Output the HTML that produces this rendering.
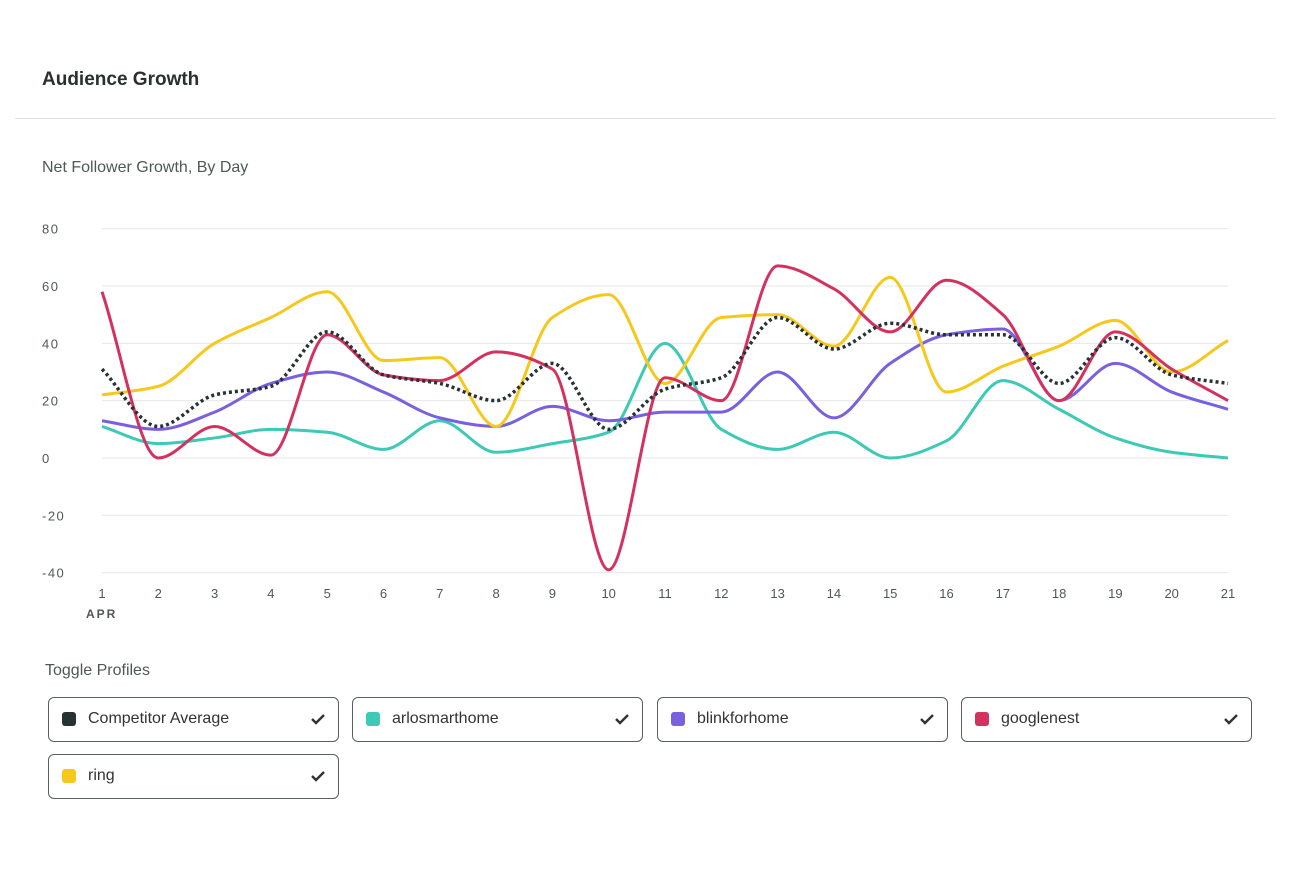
<!DOCTYPE html>
<html><head><meta charset="utf-8"><style>
body{margin:0;width:1300px;height:878px;background:#fff;font-family:"Liberation Sans",sans-serif;color:#333;position:relative;overflow:hidden}
.h{position:absolute;left:42px;top:69px;font-size:19px;font-weight:bold;color:#2a3030}
.div{position:absolute;left:15px;top:118px;width:1261px;height:1px;background:#e2e4e4}
.sub{position:absolute;left:42px;top:159px;font-size:16px;color:#505757}
.tg{position:absolute;left:45px;top:662px;font-size:16px;color:#505757}
.btn{position:absolute;height:45px;width:291px;border:1px solid #5a5f5f;border-radius:6px;box-sizing:border-box;font-size:16px;color:#333}
.btn .sw{position:absolute;left:13px;top:14px;width:14px;height:14px;border-radius:3px}
.btn .lb{position:absolute;left:39px;top:12px}
.btn svg{position:absolute;right:12px;top:14px}
</style></head><body>
<div class="h">Audience Growth</div>
<div class="div"></div>
<div class="sub">Net Follower Growth, By Day</div>
<svg id="chart" width="1300" height="640" style="position:absolute;left:0;top:0"></svg>
<div class="tg">Toggle Profiles</div>
<div id="legend"></div>
<script>
const days=[1,2,3,4,5,6,7,8,9,10,11,12,13,14,15,16,17,18,19,20,21];
const yTicks=[80,60,40,20,0,-20,-40];
const avgVals=[31,11,22,25,44,29,26,20,33,10,24,28,49,38,47,43,43,26,42,29,26];
const arloVals=[11,5,7,10,9,3,13,2,5,9,40,10,3,9,0,6,27,17,7,2,0];
const blinkVals=[13,10,16,26,30,23,14,11,18,13,16,16,30,14,33,43,45,20,33,23,17];
const nestVals=[58,0,11,1,43,29,27,37,31,-39,28,20,67,59,44,62,50,20,44,31,20];
const ringVals=[22,25,40,49,58,34,35,11,49,57,26,49,50,39,63,23,32,39,48,30,41];
const names=['Competitor Average','arlosmarthome','blinkforhome','googlenest','ring'];
const colors=['#263233','#3cc9b5','#7a5fdf','#d3325f','#f7c81c'];
const X=d=>102+(d-1)*56.3, Y=v=>458-v*2.867;
const svg=document.getElementById('chart'),NS='http://www.w3.org/2000/svg';
function el(t,a){const e=document.createElementNS(NS,t);for(const k in a)e.setAttribute(k,a[k]);svg.appendChild(e);return e;}
yTicks.forEach(t=>{
 const l=el('line',{x1:102,x2:1228,y1:Y(t),y2:Y(t),stroke:'#e6e8e8','stroke-width':1});
 
 
 const tx=el('text',{x:42,y:Y(t)+5,'font-size':13,fill:'#505757','letter-spacing':'1.5'});tx.textContent=t;
 
 
});
days.forEach(d=>{
 const tx=el('text',{x:X(d),y:598,'font-size':13,fill:'#505757','text-anchor':'middle'});tx.textContent=d;
 
 
});
const apr=el('text',{x:86,y:618,'font-size':12,'font-weight':'bold',fill:'#505757','letter-spacing':'2'});apr.textContent='APR';


function mono(xs,ys){const n=xs.length,dx=[],m=[],t=[];
 for(let i=0;i<n-1;i++){dx[i]=xs[i+1]-xs[i];m[i]=(ys[i+1]-ys[i])/dx[i];}
 t[0]=m[0];t[n-1]=m[n-2];
 for(let i=1;i<n-1;i++){t[i]=(m[i-1]*m[i]<=0)?0:3*(dx[i-1]+dx[i])/((2*dx[i]+dx[i-1])/m[i-1]+(dx[i]+2*dx[i-1])/m[i]);}
 let p='M'+xs[0]+','+ys[0];
 for(let i=0;i<n-1;i++){const h=dx[i]/3;p+=' C'+(xs[i]+h)+','+(ys[i]+t[i]*h)+' '+(xs[i+1]-h)+','+(ys[i+1]-t[i+1]*h)+' '+xs[i+1]+','+ys[i+1];}
 return p;}
const series=[avgVals,arloVals,blinkVals,nestVals,ringVals];
const order=[1,2,4,3,0];
order.forEach(i=>{
 const a={d:mono(days.map(X),series[i].map(Y)),fill:'none',stroke:colors[i],'stroke-width':3,'stroke-linejoin':'round'};
 if(i===0){a['stroke-dasharray']='3 3';a['stroke-width']=3.5;}
 const p=el('path',a);
 
 
});
const lg=document.getElementById('legend');
const pos=[[48,697],[352,697],[657,697],[961,697],[48,754]];
names.forEach((n,i)=>{
 const b=document.createElement('div');b.className='btn';
 b.style.left=pos[i][0]+'px';b.style.top=pos[i][1]+'px';
 
 
 b.innerHTML='<span class="sw" style="background:'+colors[i]+'"></span><span class="lb">'+n+'</span><svg width="16" height="14"><path d="M2 7 L6 11 L14 3" fill="none" stroke="#333" stroke-width="2.4"/></svg>';
 lg.appendChild(b);
});
</script>
</body></html>
